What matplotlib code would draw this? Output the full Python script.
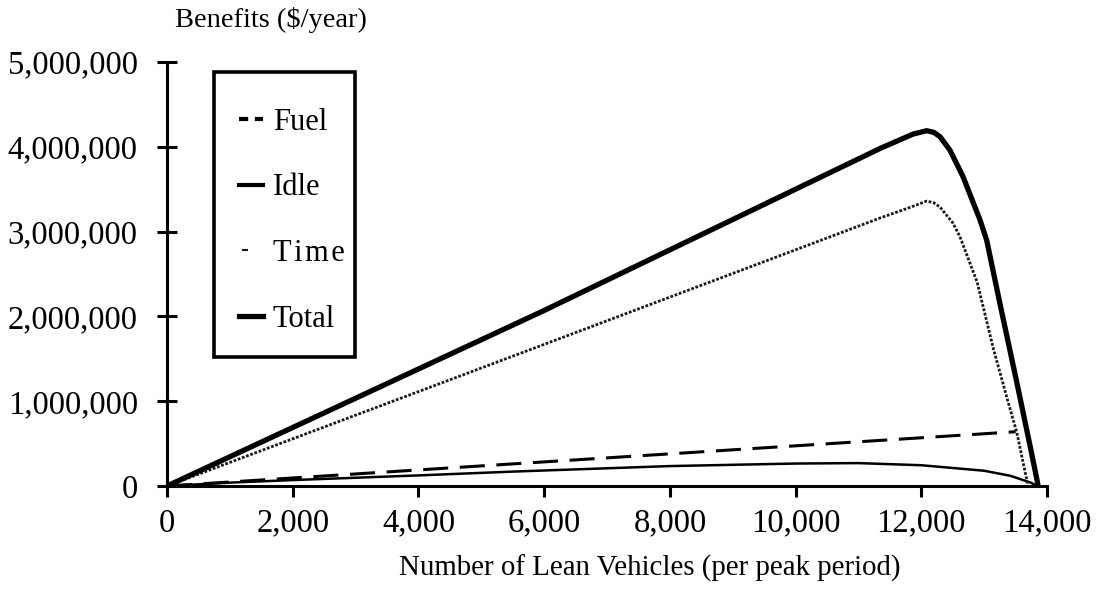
import numpy as np
import matplotlib
matplotlib.use("Agg")
import matplotlib.pyplot as plt
from matplotlib.patches import Rectangle
from matplotlib.ticker import FuncFormatter

plt.rcParams['font.family'] = ['Liberation Serif', 'DejaVu Serif']

# benefits in $/year (millions)
x_fuel = [0, 13500]
fuel = [0, 0.64]

x_idle = [0, 1000, 2000, 4000, 5500, 8000, 10000, 11000, 12000, 13000, 13420, 13740, 13850]
idle = [0, 0.04, 0.07, 0.125, 0.17, 0.235, 0.265, 0.27, 0.245, 0.18, 0.12, 0.04, 0]

x_time = [0, 6000, 11343, 11800, 12086, 12200, 12297, 12504, 12615, 12890, 13150, 13370, 13520, 13630, 13700]
time_b = [0, 1.67, 3.16, 3.28, 3.36, 3.34, 3.29, 3.10, 2.94, 2.40, 1.61, 1.02, 0.63, 0.24, 0]

x_total = [0, 6000, 11343, 11868, 12086, 12200, 12297, 12456, 12663, 12933, 13040, 13260, 13520, 13740, 13860]
total = [0, 2.07, 3.98, 4.15, 4.19, 4.17, 4.12, 3.96, 3.65, 3.14, 2.90, 2.12, 1.22, 0.44, 0]

x_ticks = [0, 2000, 4000, 6000, 8000, 10000, 12000, 14000]
y_ticks = [0, 1000000, 2000000, 3000000, 4000000, 5000000]


def to_dollars(vals):
    return np.array(vals) * 1e6


fig = plt.figure(figsize=(10.96, 5.94), dpi=100)
ax = fig.add_axes([0.1524, 0.1818, 0.8029, 0.7138])

ax.plot(x_fuel, to_dollars(fuel), color="black", lw=2.2, dashes=(8.2, 3.8), label="Fuel")
ax.plot(x_idle, to_dollars(idle), color="black", lw=1.8, label="Idle")
ax.plot(x_time, to_dollars(time_b), color="#1a1a1a", lw=2.0, dashes=(1.0, 0.6),
        label="T\u200ai\u200am\u200ae")
ax.plot(x_total, to_dollars(total), color="black", lw=3.8, label="Total")

ax.set_xlim(0, 14000)
ax.set_ylim(0, 5000000)
ax.set_xticks(x_ticks)
ax.set_yticks(y_ticks)
ax.xaxis.set_major_formatter(FuncFormatter(lambda v, p: f"{int(v):,}"))
ax.yaxis.set_major_formatter(FuncFormatter(lambda v, p: f"{int(v):,}"))

for side in ["top", "right"]:
    ax.spines[side].set_visible(False)
for side in ["left", "bottom"]:
    ax.spines[side].set_linewidth(2.2)

ax.tick_params(axis="x", direction="out", length=8, width=2.2, labelsize=23.5, pad=8)
ax.tick_params(axis="y", direction="inout", length=14, width=2.2, labelsize=23.5, pad=14)

ax.set_xlabel("Number of Lean Vehicles (per peak period)", fontsize=20.8)
ax.xaxis.set_label_coords(0.548, -0.163)
fig.text(175 / 1096, 1 - 20 / 594, "Benefits ($/year)", fontsize=20.5, ha="left", va="center")

# legend without its own frame, box drawn separately so its size matches
leg = ax.legend(loc="upper left", bbox_to_anchor=(0.0818, 0.892), borderaxespad=0,
                fontsize=22, handlelength=0.8, handletextpad=0.3,
                labelspacing=1.2, borderpad=0, frameon=False)
leg.get_lines()[0].set_dashes((2.2, 1.6))
leg.get_lines()[0].set_linewidth(3)
leg.get_lines()[1].set_linewidth(3)
time_key = leg.get_lines()[2]
time_key.set_linestyle("-")
time_key.set_linewidth(1.5)
time_key.set_data([3.0, 5.5], [time_key.get_ydata()[0]] * 2)

ax.add_patch(Rectangle((0.0534, 0.304), 0.1602, 0.672, transform=ax.transAxes,
                       fill=False, edgecolor="black", lw=2.6, clip_on=False, zorder=5))

fig.savefig("out.png", dpi=100)
